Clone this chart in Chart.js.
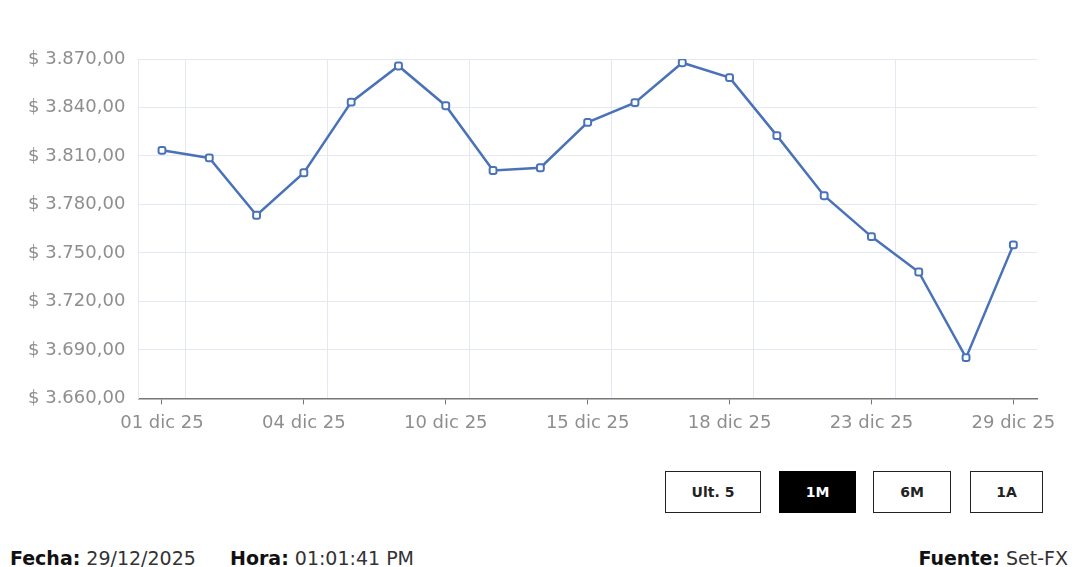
<!DOCTYPE html>
<html>
<head>
<meta charset="utf-8">
<script src="https://cdn.jsdelivr.net/npm/chart.js@4.4.1/dist/chart.umd.min.js"></script>
<style>
    html, body { margin: 0; padding: 0; background: #fff; }
    body { width: 1080px; height: 567px; position: relative; overflow: hidden; font-family: "DejaVu Sans", sans-serif; }
    #chartBox { position: absolute; left: 0; top: 0; width: 1080px; height: 447px; }
    .btn {
        position: absolute; top: 471px; height: 42px; box-sizing: border-box;
        border: 1.5px solid #222; background: #fff; color: #222;
        font: bold 14px "DejaVu Sans", sans-serif; display: flex; align-items: center; justify-content: center;
    }
    .btn.active { background: #000; color: #fff; border-color: #000; }
    .footer { position: absolute; top: 547px; font-size: 19px; color: #333; white-space: nowrap; }
    .footer b { color: #111; }
</style>
</head>
<body>
<div id="chartBox"><canvas id="trmChart"></canvas></div>

<div class="btn" style="left:665px;width:96px;">Ult. 5</div>
<div class="btn active" style="left:779px;width:77px;">1M</div>
<div class="btn" style="left:873px;width:78px;">6M</div>
<div class="btn" style="left:970px;width:73px;">1A</div>

<div class="footer" style="left:10px;"><b>Fecha:</b> 29/12/2025</div>
<div class="footer" style="left:230px;"><b>Hora:</b> 01:01:41 PM</div>
<div class="footer" style="right:12px;"><b>Fuente:</b> Set-FX</div>

<script>
// Dias habiles de diciembre 2025
const dates = ['01 dic 25', '02 dic 25', '03 dic 25', '04 dic 25', '05 dic 25', '09 dic 25', '10 dic 25',
    '11 dic 25', '12 dic 25', '15 dic 25', '16 dic 25', '17 dic 25', '18 dic 25', '19 dic 25',
    '22 dic 25', '23 dic 25', '24 dic 25', '26 dic 25', '29 dic 25'];
const trm = [3813.5, 3808.8, 3773.3, 3799.6, 3843.3, 3865.7, 3841.1, 3801.0, 3802.7, 3830.8,
    3843.0, 3867.7, 3858.5, 3822.6, 3785.4, 3760.1, 3738.2, 3685.2, 3755.0];
const yMin = 3660;
const yMax = 3870;
const yStep = 30;
const labelEvery = 3;

const lineColor = '#4a72b8';
const gridColor = '#e4e8f0';
const tickColor = '#8e8e8e';

function formatPeso(v) {
    const parts = v.toFixed(2).split('.');
    const intPart = parts[0].replace(/\B(?=(\d{3})+(?!\d))/g, '.');
    return '$ ' + intPart + ',' + parts[1];
}

const ctx = document.getElementById('trmChart');
const chart = new Chart(ctx, {
    type: 'line',
    data: {
        labels: dates,
        datasets: [{
            label: 'TRM',
            data: trm,
            borderColor: lineColor,
            borderWidth: 2.5,
            backgroundColor: '#fff',
            pointStyle: 'rectRounded',
            pointRadius: 4,
            pointBorderWidth: 2,
            pointBorderColor: lineColor,
            pointBackgroundColor: '#fff',
            tension: 0,
            fill: false
        }]
    },
    options: {
        responsive: true,
        maintainAspectRatio: false,
        animation: false,
        layout: { padding: { left: 15, right: 43, top: 59, bottom: 5 } },
        plugins: {
            legend: { display: false },
            tooltip: { enabled: false }
        },
        scales: {
            x: {
                type: 'category',
                offset: true,
                border: { display: true, color: '#777', width: 1.5 },
                grid: {
                    offset: false,
                    drawOnChartArea: false,
                    tickLength: 6,
                    tickColor: (c) => c.index % labelEvery === 0 ? '#777' : 'rgba(0,0,0,0)'
                },
                ticks: {
                    autoSkip: false,
                    maxRotation: 0,
                    color: tickColor,
                    font: { family: 'DejaVu Sans', size: 18 },
                    padding: 8,
                    callback: function(value, index) {
                        return index % labelEvery === 0 ? this.getLabelForValue(value) : '';
                    }
                }
            },
            xGrid: {
                type: 'category',
                position: 'top',
                offset: true,
                border: { display: false },
                grid: {
                    offset: true,
                    drawTicks: false,
                    color: (c) => (c.index % labelEvery === 1 || c.index === dates.length) ? gridColor : 'rgba(0,0,0,0)'
                },
                ticks: { display: false }
            },
            y: {
                min: yMin,
                max: yMax,
                border: { display: true, color: gridColor },
                grid: { color: gridColor, drawTicks: false },
                ticks: {
                    stepSize: yStep,
                    color: tickColor,
                    padding: 13,
                    font: { family: 'DejaVu Sans', size: 18 },
                    callback: (v) => formatPeso(v)
                }
            }
        }
    }
});
</script>
</body>
</html>
